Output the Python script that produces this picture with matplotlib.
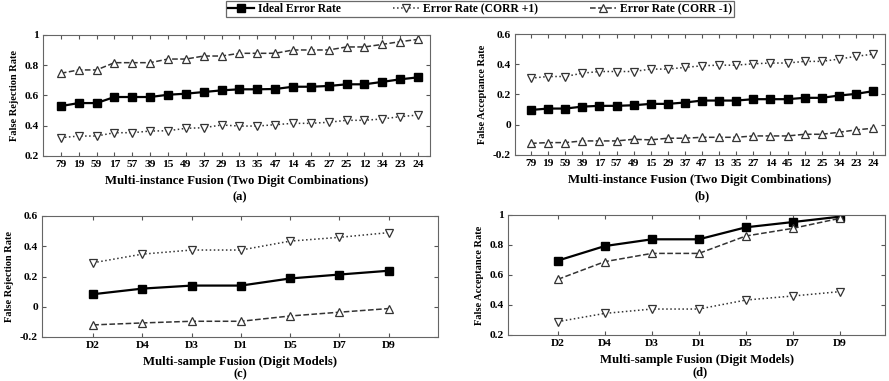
import matplotlib.pyplot as plt
import numpy as np

plt.rcParams['font.family'] = 'Liberation Serif'
plt.rcParams['font.weight'] = 'bold'

# data
combos_a = ['79', '19', '59', '17', '57', '39', '15', '49', '37', '29', '13',
            '35', '47', '14', '45', '27', '25', '12', '34', '23', '24']
ideal_a = [0.53, 0.55, 0.55, 0.59, 0.59, 0.59, 0.605, 0.612, 0.623, 0.634, 0.641,
           0.641, 0.643, 0.658, 0.658, 0.663, 0.674, 0.674, 0.69, 0.707, 0.72]
plus_a = [0.321, 0.332, 0.332, 0.354, 0.354, 0.365, 0.367, 0.383, 0.387, 0.405, 0.398,
          0.398, 0.407, 0.416, 0.416, 0.423, 0.436, 0.436, 0.445, 0.46, 0.471]
minus_a = [0.747, 0.769, 0.769, 0.817, 0.817, 0.817, 0.841, 0.841, 0.861, 0.861, 0.879,
           0.879, 0.879, 0.901, 0.901, 0.901, 0.921, 0.921, 0.938, 0.956, 0.971]

combos_b = ['79', '19', '59', '39', '17', '57', '49', '15', '29', '37', '47',
            '13', '35', '27', '14', '45', '12', '25', '34', '23', '24']
ideal_b = [0.098, 0.107, 0.107, 0.12, 0.125, 0.125, 0.129, 0.138, 0.138, 0.147, 0.16,
           0.16, 0.16, 0.169, 0.169, 0.169, 0.178, 0.178, 0.193, 0.204, 0.222]
plus_b = [0.308, 0.319, 0.319, 0.341, 0.352, 0.352, 0.352, 0.368, 0.368, 0.379, 0.39,
          0.394, 0.394, 0.403, 0.408, 0.408, 0.419, 0.419, 0.434, 0.452, 0.467]
minus_b = [-0.123, -0.118, -0.118, -0.107, -0.107, -0.107, -0.096, -0.1, -0.089, -0.089, -0.083,
           -0.083, -0.083, -0.074, -0.074, -0.074, -0.063, -0.063, -0.05, -0.034, -0.023]

models = ['D2', 'D4', 'D3', 'D1', 'D5', 'D7', 'D9']
ideal_c = [0.083, 0.12, 0.14, 0.14, 0.187, 0.213, 0.238]
plus_c = [0.291, 0.348, 0.375, 0.375, 0.434, 0.459, 0.49]
minus_c = [-0.12, -0.107, -0.096, -0.096, -0.061, -0.036, -0.012]

ideal_d = [0.696, 0.793, 0.838, 0.838, 0.918, 0.953, 0.989]
plus_d = [0.289, 0.344, 0.373, 0.373, 0.433, 0.46, 0.489]
minus_d = [0.571, 0.689, 0.744, 0.744, 0.86, 0.911, 0.978]

W, H = 889, 381
fig = plt.figure(figsize=(W / 100, H / 100), dpi=100)


def px_axes(x0, y0, x1, y1):
    return fig.add_axes([x0 / W, 1 - y1 / H, (x1 - x0) / W, (y1 - y0) / H])


panels = [
    # box, labels, ideal, plus, minus, ylim, yticks, xlim, ylabel, xlabel, tag, tag pos
    ((43, 35, 430, 156), combos_a, ideal_a, plus_a, minus_a, (0.2, 1.0),
     [0.2, 0.4, 0.6, 0.8, 1], (-1.0, 20.67), 'False Rejection Rate',
     'Multi-instance Fusion (Two Digit Combinations)', '(a)', (240, 197)),
    ((515, 34, 885, 155), combos_b, ideal_b, plus_b, minus_b, (-0.2, 0.6),
     [-0.2, 0, 0.2, 0.4, 0.6], (-0.94, 20.7), 'False Acceptance Rate',
     'Multi-instance Fusion (Two Digit Combinations)', '(b)', (702, 196)),
    ((42, 216, 438, 337), models, ideal_c, plus_c, minus_c, (-0.2, 0.6),
     [-0.2, 0, 0.2, 0.4, 0.6], (-1.04, 7.0), 'False Rejection Rate',
     'Multi-sample Fusion (Digit Models)', '(c)', (240, 374)),
    ((508, 215, 885, 335), models, ideal_d, plus_d, minus_d, (0.2, 1.0),
     [0.2, 0.4, 0.6, 0.8, 1], (-1.06, 6.96), 'False Acceptance Rate',
     'Multi-sample Fusion (Digit Models)', '(d)', (700, 372)),
]

handles = None
for box, labels, ideal, plus, minus, ylim, yticks, xlim, ylab, xlab, tag, tpos in panels:
    ax = px_axes(*box)
    x = np.arange(len(labels))
    h1, = ax.plot(x, ideal, '-s', color='black', lw=1.6, ms=5.5,
                  mfc='black', mec='black', label='Ideal Error Rate')
    h2, = ax.plot(x, plus, ':v', color='#333333', lw=1.1, ms=6,
                  mfc='white', mec='#333333', mew=0.9, label='Error Rate (CORR +1)')
    h3, = ax.plot(x, minus, '--^', color='#333333', lw=1.1, ms=6,
                  mfc='white', mec='#333333', mew=0.9, label='Error Rate (CORR -1)')
    handles = [h1, h2, h3]
    ax.set_xlim(*xlim)
    ax.set_ylim(*ylim)
    ax.set_xticks(x)
    ax.set_xticklabels(labels)
    ax.set_yticks(yticks)
    ax.set_yticklabels([('%g' % v) for v in yticks])
    ax.tick_params(direction='in', top=True, right=True, length=3,
                   labelsize=8.2, pad=3, color='#555555')
    for s in ax.spines.values():
        s.set_color('#666666')
        s.set_linewidth(0.8)
    ax.set_ylabel(ylab, fontsize=7.5, fontweight='bold', labelpad=4)
    ax.set_xlabel(xlab, fontsize=9.2, fontweight='bold', labelpad=4)
    fig.text(tpos[0] / W, 1 - tpos[1] / H, tag, ha='center', va='center',
             fontsize=9, fontweight='bold')

leg = fig.legend(handles=handles, loc='center', bbox_to_anchor=(480 / W, 1 - 9 / H),
                 ncol=3, fontsize=8.4, frameon=True, fancybox=False,
                 edgecolor='#444444', handlelength=2.2, columnspacing=4.5,
                 borderpad=0.2, handletextpad=0.35)
leg.get_frame().set_linewidth(0.9)

fig.savefig('out.png', dpi=100)
